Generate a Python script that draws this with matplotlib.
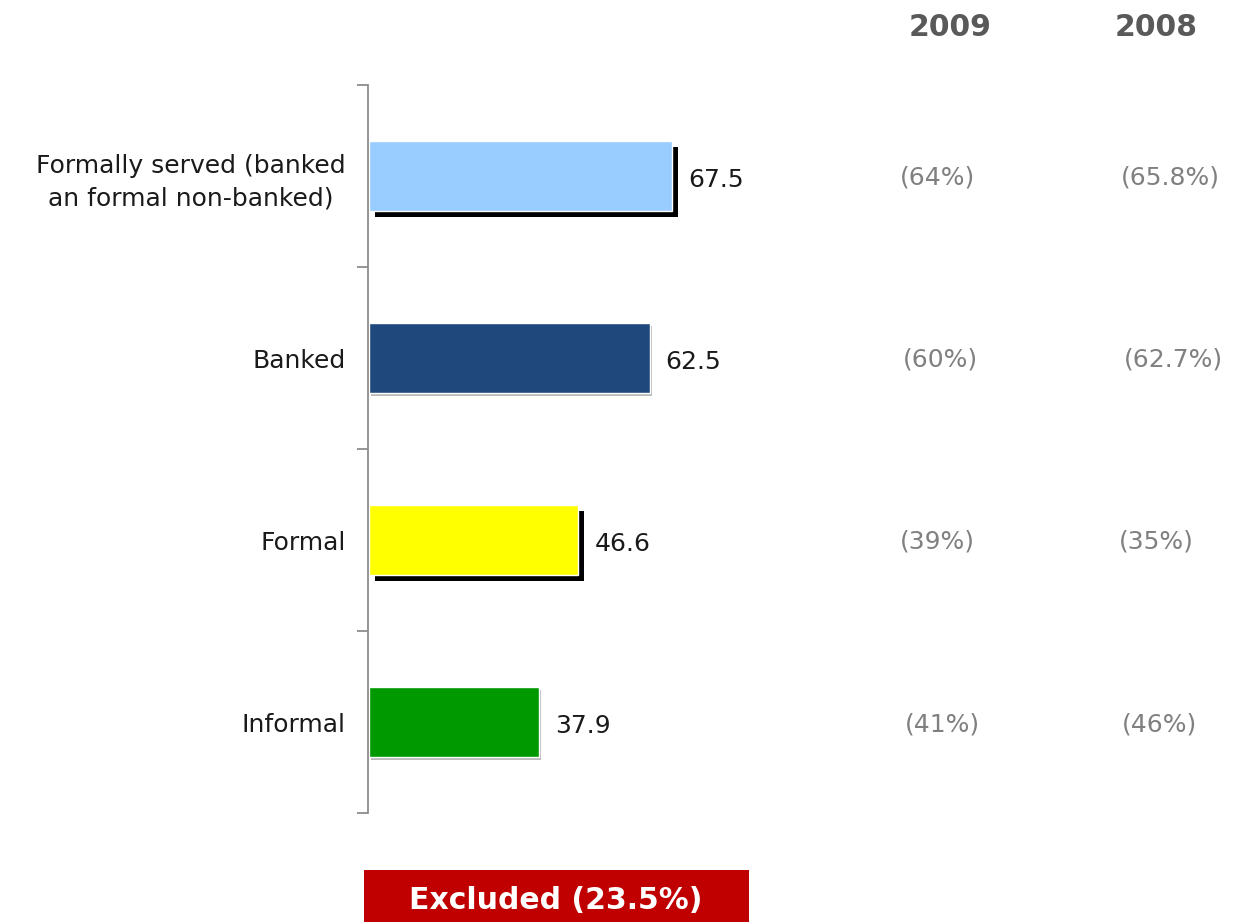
import matplotlib
matplotlib.use("Agg")
import matplotlib.pyplot as plt
import matplotlib.patheffects as pe

categories = ["Formally served (banked\nan formal non-banked)", "Banked", "Formal", "Informal"]
values = [67.5, 62.5, 46.6, 37.9]
colors = ["#99CCFF", "#1F497D", "#FFFF00", "#009900"]
hard_shadow = [True, False, True, False]
pct_2009 = ["(64%)", "(60%)", "(39%)", "(41%)"]
pct_2008 = ["(65.8%)", "(62.7%)", "(35%)", "(46%)"]
years = ["2009", "2008"]
excluded = "Excluded (23.5%)"

W, H = 1237, 922
fig = plt.figure(figsize=(W / 100, H / 100), dpi=100)

# axes: left spine at x=368px, rows between y=85px and y=813px
x0, x1 = 368, 368 + 4.49 * 100
ax = fig.add_axes([x0 / W, 1 - 813 / H, (x1 - x0) / W, (813 - 85) / H])
ax.set_xlim(0, 100)
ax.set_ylim(3.5, -0.5)

label_font = dict(family="DejaVu Sans")
fs = 18

for i, (v, c) in enumerate(zip(values, colors)):
    if hard_shadow[i]:
        fx = [pe.SimplePatchShadow(offset=(4.5, -4.5), shadow_rgbFace="black", alpha=1.0), pe.Normal()]
    else:
        fx = [pe.SimplePatchShadow(offset=(1.5, -2), shadow_rgbFace="#777777", alpha=0.5), pe.Normal()]
    b = ax.barh(i, v, height=0.385, left=0.2, color=c, edgecolor="white", linewidth=1.0)
    b[0].set_path_effects(fx)
    ax.text(v + 3.8, i + 0.02, f"{v}", va="center", ha="left", fontsize=fs,
            color="#1a1a1a", **label_font)

for s in ["top", "right", "bottom"]:
    ax.spines[s].set_visible(False)
ax.spines["left"].set_color("#8c8c8c")
ax.spines["left"].set_linewidth(1.3)
ax.set_xticks([])
ax.set_yticks(range(len(categories)))
ax.set_yticklabels(categories, fontsize=fs, color="#1a1a1a", **label_font)
ax.tick_params(axis="y", which="major", length=0, pad=16)
ax.set_yticks([-0.5, 0.5, 1.5, 2.5, 3.5], minor=True)
ax.tick_params(axis="y", which="minor", length=8, width=1.3, color="#8c8c8c")
for t in ax.get_yticklabels():
    t.set_multialignment("center")
    t.set_linespacing(1.4)

# year columns
col_x = [950, 1156]
pct_x = [[937, 940, 937, 942], [1170, 1173, 1156, 1160]]
for j, yr in enumerate(years):
    fig.text(col_x[j] / W, 1 - 27 / H, yr, ha="center", va="center", fontsize=21.5,
             fontweight="bold", color="#595959", family="DejaVu Sans")
for j, col in enumerate([pct_2009, pct_2008]):
    for i, s in enumerate(col):
        yc = 1 - (178 + i * 182) / H
        fig.text(pct_x[j][i] / W, yc, s, ha="center", va="center", fontsize=fs,
                 color="#808080", **label_font)

# excluded banner
fig.patches.append(plt.Rectangle((364 / W, 0), (749 - 364) / W, (922 - 870) / H,
                                 transform=fig.transFigure, facecolor="#C00000",
                                 edgecolor="none"))
fig.text(556 / W, 1 - 900 / H, excluded, ha="center", va="center", fontsize=21.5,
         fontweight="bold", color="white", family="DejaVu Sans")

fig.savefig("out.png", dpi=100)
